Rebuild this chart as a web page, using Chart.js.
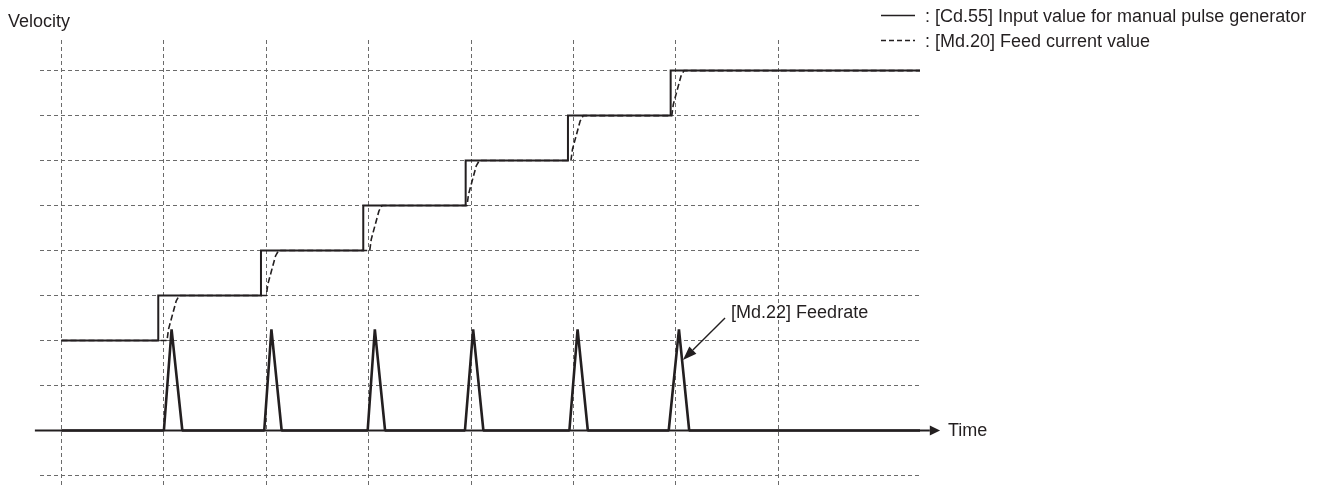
<!DOCTYPE html>
<html><head><meta charset="utf-8">
<script src="https://cdn.jsdelivr.net/npm/chart.js@4.4.1/dist/chart.umd.min.js"></script>
<style>html,body{margin:0;padding:0;background:#fff;overflow:hidden}#wrap{width:1322px;height:488px}</style>
</head><body><div id="wrap"><canvas id="c" width="1322" height="488"></canvas></div>
<script>
// ---- data (time in grid units, velocity in grid units; 0 = time axis) ----
const xGridTicks = [0, 1, 2, 3, 4, 5, 6, 7];
const yGridTicks = [-1, 1, 2, 3, 4, 5, 6, 7, 8];
const xRange = [-0.21, 8.384];
const yRange = [-1.278, 8.68];

// [Cd.55] Input value for manual pulse generator (solid step line)
const inputValue = [
  [0, 2], [0.945, 2], [0.945, 3], [1.948, 3], [1.948, 4], [2.947, 4], [2.947, 5],
  [3.947, 5], [3.947, 6], [4.946, 6], [4.946, 7], [5.949, 7], [5.949, 8], [8.384, 8]
];
// [Md.20] Feed current value (dashed, lagging)
const feedCurrent = [
  [0, 2],
  [1.03, 2], [1.045, 2.25], [1.12, 2.88], [1.15, 3],
  [2.0, 3], [2.015, 3.25], [2.09, 3.88], [2.12, 4],
  [3.01, 4], [3.025, 4.25], [3.10, 4.88], [3.13, 5],
  [3.96, 5], [3.975, 5.25], [4.05, 5.88], [4.08, 6],
  [4.975, 6], [4.99, 6.25], [5.065, 6.88], [5.095, 7],
  [5.96, 7], [5.975, 7.25], [6.05, 7.88], [6.08, 8],
  [8.384, 8]
];
// [Md.22] Feedrate (spikes)
const feedrate = [
  [0, 0],
  [1.0, 0], [1.075, 2.25], [1.18, 0],
  [1.98, 0], [2.05, 2.25], [2.15, 0],
  [2.99, 0], [3.06, 2.25], [3.16, 0],
  [3.94, 0], [4.02, 2.25], [4.12, 0],
  [4.96, 0], [5.04, 2.25], [5.14, 0],
  [5.93, 0], [6.03, 2.25], [6.13, 0],
  [8.384, 0]
];
const axisX = [-0.26, 8.48, 8.58];   // axis start, arrow base, arrow tip
const timeLabelX = 8.657;
const annoFrom = [6.48, 2.5];
const annoTo = [6.069, 1.567];
const annoText = '[Md.22] Feedrate';
const annoTextPos = [6.539, 2.61];
const legendItems = [
  {text: ': [Cd.55] Input value for manual pulse generator', dash: []},
  {text: ': [Md.20] Feed current value', dash: [5, 3]}
];

const INK = '#231f20';
const FONT = '18px "Liberation Sans", Arial, sans-serif';
const toPts = a => a.map(p => ({x: p[0], y: p[1]}));

const decor = {
  id: 'decor',
  beforeDatasetsDraw(chart) {
    const {ctx, scales: {x, y}} = chart;
    const y0 = y.getPixelForValue(0);
    ctx.save();
    ctx.strokeStyle = INK; ctx.lineWidth = 2;
    ctx.beginPath();
    ctx.moveTo(x.getPixelForValue(axisX[0]), y0);
    ctx.lineTo(x.getPixelForValue(axisX[1]), y0);
    ctx.stroke();
    ctx.fillStyle = INK;
    ctx.beginPath();
    ctx.moveTo(x.getPixelForValue(axisX[2]), y0);
    ctx.lineTo(x.getPixelForValue(axisX[1]), y0 - 5);
    ctx.lineTo(x.getPixelForValue(axisX[1]), y0 + 5);
    ctx.closePath(); ctx.fill();
    ctx.restore();
  },
  afterDatasetsDraw(chart) {
    const {ctx, scales: {x, y}} = chart;
    ctx.save();
    ctx.font = FONT; ctx.fillStyle = INK; ctx.textBaseline = 'middle'; ctx.textAlign = 'left';
    ctx.fillText('Time', x.getPixelForValue(timeLabelX), y.getPixelForValue(0) + 1);
    ctx.textBaseline = 'alphabetic';
    ctx.fillText('Velocity', 8, 27);
    legendItems.forEach((it, i) => {
      const by = 22 + i * 25;
      ctx.fillText(it.text, 925, by);
      ctx.save();
      ctx.strokeStyle = INK; ctx.lineWidth = 1.4; ctx.setLineDash(it.dash);
      ctx.beginPath(); ctx.moveTo(881, by - 6.5); ctx.lineTo(915, by - 6.5); ctx.stroke();
      ctx.restore();
    });
    const fx = x.getPixelForValue(annoFrom[0]), fy = y.getPixelForValue(annoFrom[1]);
    const tx = x.getPixelForValue(annoTo[0]), ty = y.getPixelForValue(annoTo[1]);
    const ang = Math.atan2(ty - fy, tx - fx);
    const hl = 14, hw = 5;
    const bx = tx - hl * Math.cos(ang), by2 = ty - hl * Math.sin(ang);
    ctx.strokeStyle = INK; ctx.lineWidth = 1.4;
    ctx.beginPath(); ctx.moveTo(fx, fy); ctx.lineTo(bx, by2); ctx.stroke();
    ctx.beginPath();
    ctx.moveTo(tx, ty);
    ctx.lineTo(bx + hw * Math.sin(ang), by2 - hw * Math.cos(ang));
    ctx.lineTo(bx - hw * Math.sin(ang), by2 + hw * Math.cos(ang));
    ctx.closePath(); ctx.fill();
    ctx.textBaseline = 'middle';
    ctx.fillText(annoText, x.getPixelForValue(annoTextPos[0]), y.getPixelForValue(annoTextPos[1]));
    ctx.restore();
  }
};

new Chart(document.getElementById('c'), {
  type: 'line',
  data: {
    datasets: [
      {label: '[Cd.55]', data: toPts(inputValue), borderColor: INK, borderWidth: 2, pointRadius: 0, tension: 0, borderJoinStyle: 'miter'},
      {label: '[Md.20]', data: toPts(feedCurrent), borderColor: INK, borderWidth: 1.6, borderDash: [6, 3], pointRadius: 0, tension: 0},
      {label: '[Md.22]', data: toPts(feedrate), borderColor: INK, borderWidth: 2.6, pointRadius: 0, tension: 0, borderJoinStyle: 'bevel'}
    ]
  },
  options: {
    responsive: false, animation: false, devicePixelRatio: 1,
    layout: {padding: {left: 40, right: 402, top: 40, bottom: 0}},
    plugins: {legend: {display: false}, tooltip: {enabled: false}},
    scales: {
      x: {type: 'linear', min: xRange[0], max: xRange[1],
          afterBuildTicks: s => { s.ticks = xGridTicks.map(v => ({value: v})); },
          ticks: {display: false}, grid: {color: '#6b6b6b', lineWidth: 1, drawTicks: false},
          border: {display: false, dash: [4, 3]}},
      y: {type: 'linear', min: yRange[0], max: yRange[1],
          afterBuildTicks: s => { s.ticks = yGridTicks.map(v => ({value: v})); },
          ticks: {display: false}, grid: {color: '#6b6b6b', lineWidth: 1, drawTicks: false},
          border: {display: false, dash: [4, 3]}}
    }
  },
  plugins: [decor]
});
</script>
</body></html>
